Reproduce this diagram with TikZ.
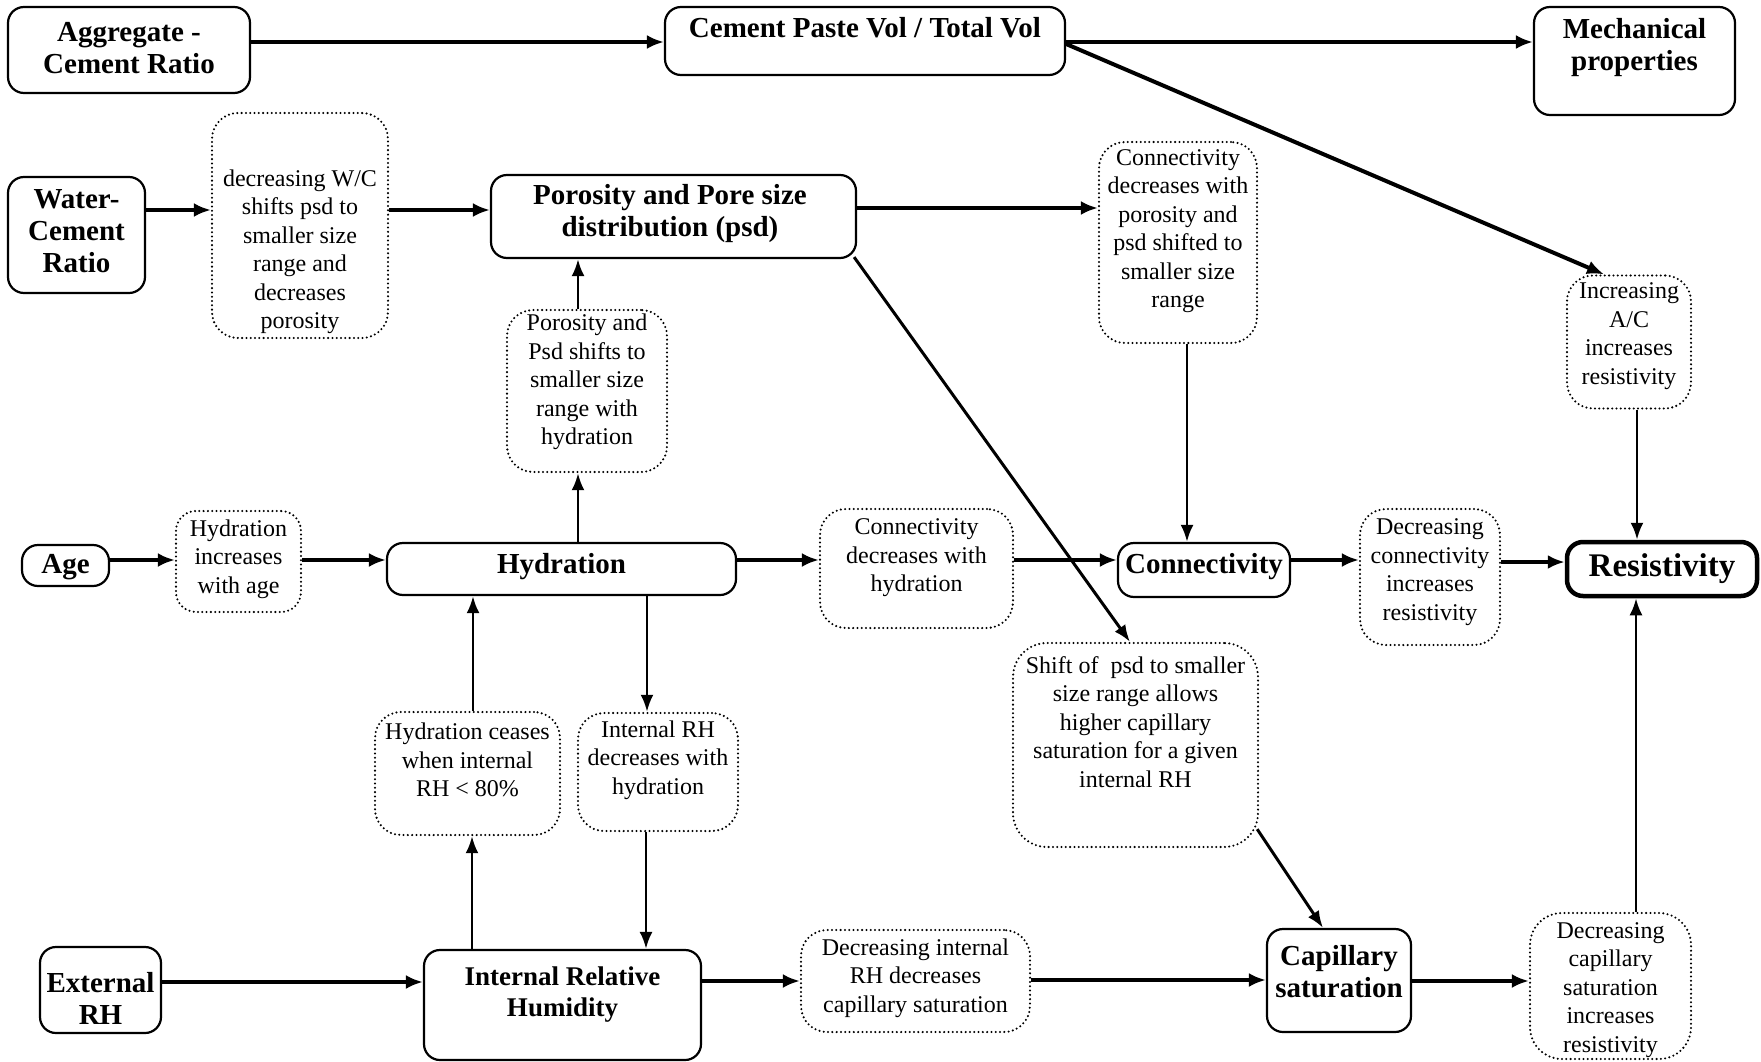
\documentclass[tikz,border=0pt]{standalone}
\usepackage{fontspec}
\setmainfont{Liberation Serif}
\usetikzlibrary{arrows.meta,calc}
\begin{document}
\begin{tikzpicture}[x=1pt,y=-1pt,
  sbox/.style={draw, line width=2.2pt, rounded corners=16pt, inner sep=0pt},
  dbox/.style={draw, line width=2.3pt, dash pattern=on 0pt off 4.3pt, line cap=round, rounded corners=26pt, inner sep=0pt},
  bt/.style={font=\bfseries\fontsize{29}{32}\selectfont, align=center, inner sep=0pt},
  nt/.style={font=\fontsize{24}{28.5}\selectfont, align=center, inner sep=0pt},
  arr/.style={line width=3.6pt, -{Latex[length=17pt,width=14pt]}},
  varr/.style={line width=2.8pt, -{Latex[length=17pt,width=13pt]}},
  darr/.style={line width=3pt, -{Latex[length=17pt,width=13pt]}},
]
\useasboundingbox (0,0) rectangle (1761,1062);

% solid boxes
\node[sbox, minimum width=242pt, minimum height=86pt] (ac) at (129,50) {};
\node[bt] (act) at (129,48) {Aggregate -\\Cement Ratio};
\node[sbox, minimum width=400pt, minimum height=68pt] (cp) at (865,41) {};
\node[bt] (cpt) at (865,28) {Cement Paste Vol / Total Vol};
\node[sbox, minimum width=201pt, minimum height=108pt] (mp) at (1634.5,61) {};
\node[bt] (mpt) at (1634.5,48) {Mechanical\\properties};
\node[sbox, minimum width=137pt, minimum height=116pt] (wc) at (76.5,235) {};
\node[bt] (wct) at (76.5,231) {Water-\\Cement\\Ratio};
\node[sbox, minimum width=365pt, minimum height=83pt] (ps) at (673.5,216.5) {};
\node[bt] (pst) at (670,214) {Porosity and Pore size\\distribution (psd)};
\node[sbox, minimum width=87pt, minimum height=41pt] (age) at (65.5,565.5) {};
\node[bt] (aget) at (65.5,567) {Age};
\node[sbox, minimum width=349pt, minimum height=52pt] (hy) at (561.5,569) {};
\node[bt] (hyt) at (561.5,567) {Hydration};
\node[sbox, minimum width=172pt, minimum height=54pt] (co) at (1204,570) {};
\node[bt] (cot) at (1204,567) {Connectivity};
\node[sbox, line width=4.5pt, minimum width=190pt, minimum height=54pt] (re) at (1662,569) {};
\node[bt, font=\bfseries\fontsize{33}{36}\selectfont] (ret) at (1662,569) {Resistivity};
\node[sbox, minimum width=121pt, minimum height=86pt] (erh) at (100.5,990) {};
\node[bt] (erht) at (100.5,998) {External\\RH};
\node[sbox, minimum width=277pt, minimum height=110pt] (irh) at (562.5,1005) {};
\node[bt, font=\bfseries\fontsize{27}{31}\selectfont] (irht) at (562.5,995) {Internal Relative\\Humidity};
\node[sbox, minimum width=144pt, minimum height=103pt] (cs) at (1339,980.5) {};
\node[bt] (cst) at (1339,972) {Capillary\\saturation};

% dotted boxes
\node[dbox, minimum width=176pt, minimum height=225pt] (d1) at (300,225.5) {};
\node[nt] (d1t) at (300,252) {decreasing W/C\\shifts psd to\\smaller size\\range and\\decreases\\porosity};
\node[dbox, minimum width=160pt, minimum height=162pt] (d2) at (587,391) {};
\node[nt] (d2t) at (587,382) {Porosity and\\Psd shifts to\\smaller size\\range with\\hydration};
\node[dbox, minimum width=158pt, minimum height=201pt] (cd1) at (1178,242.5) {};
\node[nt] (cd1t) at (1178,231) {Connectivity\\decreases with\\porosity and\\psd shifted to\\smaller size\\range};
\node[dbox, minimum width=124pt, minimum height=133pt] (d3) at (1629,342) {};
\node[nt] (d3t) at (1629,336) {Increasing\\A/C\\increases\\resistivity};
\node[dbox, minimum width=125pt, minimum height=101pt, rounded corners=20pt] (d4) at (238.5,561.5) {};
\node[nt] (d4t) at (238.5,559) {Hydration\\increases\\with age};
\node[dbox, minimum width=193pt, minimum height=119pt] (d5) at (916.5,568.5) {};
\node[nt] (d5t) at (916.5,558) {Connectivity\\decreases with\\hydration};
\node[dbox, minimum width=140pt, minimum height=136pt] (d6) at (1430,577) {};
\node[nt] (d6t) at (1430,572) {Decreasing\\connectivity\\increases\\resistivity};
\node[dbox, minimum width=245pt, minimum height=204pt, rounded corners=34pt] (d7) at (1135.5,745) {};
\node[nt] (d7t) at (1135.5,722) {Shift of\ \ psd to smaller\\size range allows\\higher capillary\\saturation for a given\\internal RH};
\node[dbox, minimum width=185pt, minimum height=123pt] (d8) at (467.5,773.5) {};
\node[nt] (d8t) at (467.5,760) {Hydration ceases\\when internal\\RH < 80\%};
\node[dbox, minimum width=160pt, minimum height=118pt] (d9) at (658,772) {};
\node[nt] (d9t) at (658,760) {Internal RH\\decreases with\\hydration};
\node[dbox, minimum width=229pt, minimum height=102pt] (d10) at (915.5,981) {};
\node[nt] (d10t) at (915.5,978) {Decreasing internal\\RH decreases\\capillary saturation};
\node[dbox, minimum width=161pt, minimum height=146pt, rounded corners=32pt] (d11) at (1610.5,986) {};
\node[nt] (d11t) at (1610.5,990) {Decreasing\\capillary\\saturation\\increases\\resistivity};

% connectors
\draw[arr] (ac.east |- 0,42) -- (cp.west |- 0,42);
\draw[arr] (cp.east |- 0,42) -- (mp.west |- 0,42);
\draw[arr, line width=4pt] (cp.east |- 0,44) -- (d3.north -| 1604,0);
\draw[arr] (wc.east |- 0,210) -- (d1.west |- 0,210);
\draw[arr] (d1.east |- 0,210) -- (ps.west |- 0,210);
\draw[arr] (ps.east |- 0,208) -- (cd1.west |- 0,208);
\draw[varr] (d2.north -| 578,0) -- (ps.south -| 578,0);
\draw[varr] (hy.north -| 578,0) -- (d2.south -| 578,0);
\draw[darr] ($(ps.south east)+(-3,-2)$) -- (d7.north -| 1130,0);
\draw[varr] (cd1.south -| 1187,0) -- (co.north -| 1187,0);
\draw[varr] (d3.south -| 1637,0) -- (re.north -| 1637,0);
\draw[arr] (age.east |- 0,560) -- (d4.west |- 0,560);
\draw[arr] (d4.east |- 0,560) -- (hy.west |- 0,560);
\draw[arr] (hy.east |- 0,560) -- (d5.west |- 0,560);
\draw[arr] (d5.east |- 0,560) -- (co.west |- 0,560);
\draw[arr] (co.east |- 0,560) -- (d6.west |- 0,560);
\draw[arr] (d6.east |- 0,562) -- (re.west |- 0,562);
\draw[varr] (d8.north -| 473,0) -- (hy.south -| 473,0);
\draw[varr] (hy.south -| 647,0) -- (d9.north -| 647,0);
\draw[varr] (irh.north -| 472,0) -- (d8.south -| 472,0);
\draw[varr] (d9.south -| 646,0) -- (irh.north -| 646,0);
\draw[arr] (erh.east |- 0,982) -- (irh.west |- 0,982);
\draw[arr] (irh.east |- 0,981) -- (d10.west |- 0,981);
\draw[arr] (d10.east |- 0,980) -- (cs.west |- 0,980);
\draw[darr] ($(d7.south east)+(-2,-19)$) -- (cs.north -| 1323,0);
\draw[arr] (cs.east |- 0,981) -- (d11.west |- 0,981);
\draw[varr] (d11.north -| 1636,0) -- (re.south -| 1636,0);
\end{tikzpicture}
\end{document}
